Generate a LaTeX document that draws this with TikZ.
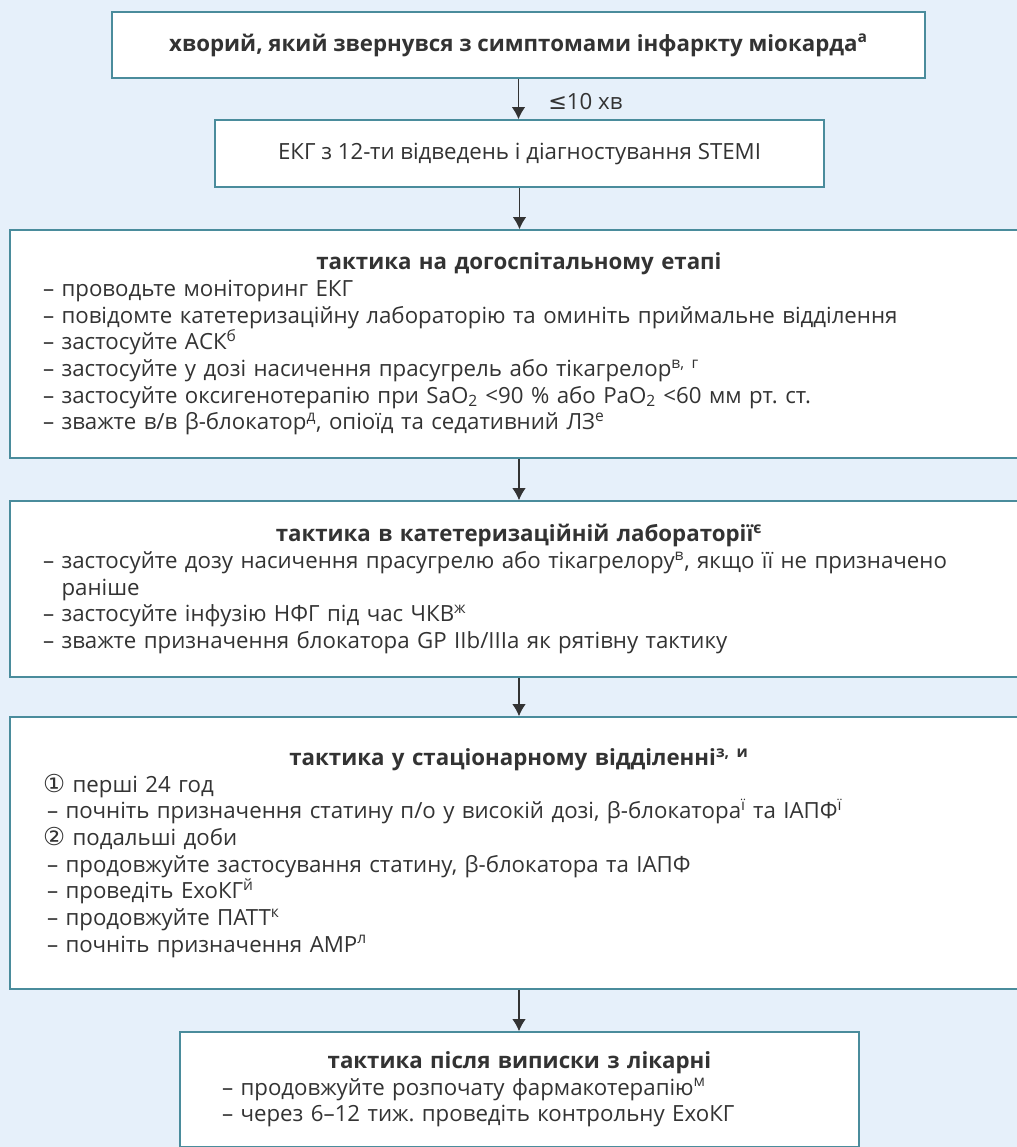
\documentclass[tikz,border=0pt]{standalone}
\usepackage{fontspec}
\setmainfont{Open Sans}
\newfontfamily\symfont{DejaVu Sans}
\usetikzlibrary{arrows.meta}
\definecolor{bgblue}{HTML}{E6F0FA}
\definecolor{boxedge}{HTML}{4A8C9C}
\definecolor{inkgrey}{HTML}{333333}
\newcommand{\circnum}[1]{{\symfont\fontsize{18.5}{20}\selectfont#1}}
\frenchspacing
\begin{document}
\begin{tikzpicture}[x=0.75pt,y=-0.75pt,
  box/.style={draw=boxedge, line width=1.2pt, fill=white, inner sep=0pt,
    text=inkgrey, font=\fontsize{16.7}{20}\selectfont},
  listbox/.style={box, align=left},
  arr/.style={draw=inkgrey, line width=0.8pt, -{Latex[length=9pt,width=10pt]}},
  lbl/.style={text=inkgrey, font=\fontsize{16.7}{20}\selectfont, inner sep=0pt, anchor=west}
]
% page background
\fill[bgblue] (0,0) rectangle (1017,1147);
\useasboundingbox (0,0) rectangle (1017,1147);

% boxes
\node[box, minimum width=813*0.75pt, minimum height=66*0.75pt] (b1) at (518.5,45)
  {\bfseries хворий, який звернувся з симптомами інфаркту міокарда\textsuperscript{а}};

\node[box, minimum width=609*0.75pt, minimum height=67*0.75pt] (b2) at (519.5,153.5)
  {ЕКГ з 12-ти відведень і діагностування STEMI};

\node[listbox, minimum width=1018*0.75pt, minimum height=228*0.75pt, text width=952*0.75pt] (b3) at (519,344)
  {\makebox[\hsize]{\bfseries тактика на догоспітальному етапі}\\
   – проводьте моніторинг ЕКГ\\
   – повідомте катетеризаційну лабораторію та оминіть приймальне відділення\\
   – застосуйте АСК\textsuperscript{б}\\
   – застосуйте у дозі насичення прасугрель або тікагрелор\textsuperscript{в, г}\\
   – застосуйте оксигенотерапію при SaO\textsubscript{2} <90 \% або PaO\textsubscript{2} <60 мм рт. ст.\\
   – зважте в/в β-блокатор\textsuperscript{д}, опіоїд та седативний ЛЗ\textsuperscript{е}};

\node[listbox, minimum width=1018*0.75pt, minimum height=176*0.75pt, text width=952*0.75pt] (b4) at (519,589)
  {\makebox[\hsize]{\bfseries тактика в катетеризаційній лабораторії\textsuperscript{є}}\\
   – застосуйте дозу насичення прасугрелю або тікагрелору\textsuperscript{в}, якщо її не призначено\\
   \phantom{– }раніше\\
   – застосуйте інфузію НФГ під час ЧКВ\textsuperscript{ж}\\
   – зважте призначення блокатора GP IIb/IIIa як рятівну тактику};

\node[listbox, minimum width=1018*0.75pt, minimum height=272*0.75pt, text width=952*0.75pt] (b5) at (519,853)
  {\makebox[\hsize]{\bfseries тактика у стаціонарному відділенні\textsuperscript{з, и}}\\
   \circnum{①} перші 24 год\\
   \hspace*{3pt}– почніть призначення статину п/о у високій дозі, β-блокатора\textsuperscript{ї} та ІАПФ\textsuperscript{ї}\\
   \circnum{②} подальші доби\\
   \hspace*{3pt}– продовжуйте застосування статину, β-блокатора та ІАПФ\\
   \hspace*{3pt}– проведіть ЕхоКГ\textsuperscript{й}\\
   \hspace*{3pt}– продовжуйте ПАТТ\textsuperscript{к}\\
   \hspace*{3pt}– почніть призначення АМР\textsuperscript{л}};

\node[listbox, minimum width=679*0.75pt, minimum height=115*0.75pt, text width=595*0.75pt] (b6) at (519.5,1089.5)
  {\makebox[\hsize]{\bfseries тактика після виписки з лікарні}\\
   – продовжуйте розпочату фармакотерапію\textsuperscript{м}\\
   – через 6–12 тиж. проведіть контрольну ЕхоКГ};

% connectors
\draw[arr] (b1.south) -- (b1.south |- b2.north);
\node[lbl] (t1) at (548,102) {{\symfont ≤}10 хв};
\draw[arr] (b2.south) -- (b2.south |- b3.north);
\draw[arr] (b3.south) -- (b3.south |- b4.north);
\draw[arr] (b4.south) -- (b4.south |- b5.north);
\draw[arr] (b5.south) -- (b5.south |- b6.north);
\end{tikzpicture}
\end{document}
